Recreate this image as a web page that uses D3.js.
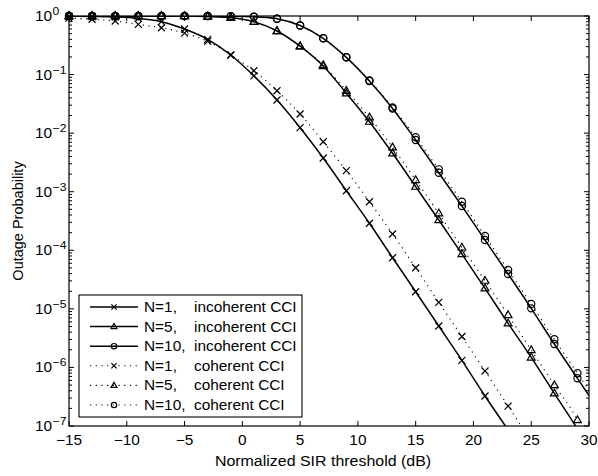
<!DOCTYPE html>
<html>
<head>
<meta charset="utf-8">
<script src="https://cdn.jsdelivr.net/npm/d3@7"></script>
<style>
  body { margin: 0; background: #fff; }
  text { font-family: "Liberation Sans", Arial, sans-serif; fill: #000; }
</style>
</head>
<body>
<div id="chart"></div>
<script>
// SIR grid (dB): markers every 2 dB, last entry only extends the line to the right edge
const snrDb = [-15, -13, -11, -9, -7, -5, -3, -1, 1, 3, 5, 7, 9, 11, 13, 15, 17, 19, 21, 23, 25, 27, 29, 30];

const incoh1 = [0.99, 0.98, 0.96, 0.91, 0.80, 0.60, 0.40, 0.216, 0.095, 0.0368, 0.0124, 0.00376,
  1.04e-3, 2.89e-4, 7.47e-5, 1.96e-5, 5.1e-6, 1.32e-6, 3.25e-7, 8.6e-8, null, null, null, null];
const incoh5 = [1, 1, 1, 1, 1, 0.998, 0.975, 0.935, 0.80, 0.555, 0.305, 0.14,
  0.048, 0.0157, 0.00453, 0.00122, 3.29e-4, 8.63e-5, 2.24e-5, 5.67e-6, 1.48e-6, 3.61e-7, 9e-8, null];
const incoh10 = [1, 1, 1, 1, 1, 1, 1, 0.995, 0.975, 0.90, 0.69, 0.416,
  0.197, 0.0777, 0.0264, 0.00764, 0.00211, 5.7e-4, 1.5e-4, 3.94e-5, 1.02e-5, 2.51e-6, 6.52e-7, 3.3e-7];
const coh1 = [0.92, 0.88, 0.82, 0.72, 0.63, 0.51, 0.37, 0.216, 0.116, 0.053, 0.0212, 0.00714,
  2.29e-3, 6.75e-4, 1.9e-4, 5.04e-5, 1.29e-5, 3.37e-6, 8.7e-7, 2.19e-7, 5.5e-8, null, null, null];
const coh5 = [1, 1, 1, 1, 1, 0.998, 0.975, 0.935, 0.80, 0.555, 0.305, 0.145,
  0.053, 0.0186, 0.00573, 0.00158, 4.28e-4, 1.12e-4, 3.03e-5, 7.85e-6, 1.98e-6, 5.0e-7, 1.26e-7, 4.5e-8];
const coh10 = [1, 1, 1, 1, 1, 1, 1, 0.995, 0.975, 0.90, 0.69, 0.416,
  0.197, 0.079, 0.0275, 0.0085, 0.00241, 6.75e-4, 1.75e-4, 4.6e-5, 1.21e-5, 3.02e-6, 7.94e-7, 4.1e-7];

const seriesNames = ['N=1,', 'N=5,', 'N=10,', 'N=1,', 'N=5,', 'N=10,'];
const seriesKinds = ['incoherent CCI', 'incoherent CCI', 'incoherent CCI', 'coherent CCI', 'coherent CCI', 'coherent CCI'];

const xTicks = [-15, -10, -5, 0, 5, 10, 15, 20, 25, 30];
const yExponents = [0, -1, -2, -3, -4, -5, -6, -7];

const width = 598, height = 476;
const margin = {top: 16, right: 9, bottom: 50, left: 69};
const sx = 1.1; // text looks horizontally stretched in the reference

const series = [
  {values: incoh1, marker: 'x', dotted: false},
  {values: incoh5, marker: 'tri', dotted: false},
  {values: incoh10, marker: 'o', dotted: false},
  {values: coh1, marker: 'x', dotted: true},
  {values: coh5, marker: 'tri', dotted: true},
  {values: coh10, marker: 'o', dotted: true}
];

const x = d3.scaleLinear()
    .domain([-15, 30])
    .range([margin.left, width - margin.right]);

const y = d3.scaleLog()
    .domain([1e-7, 1])
    .range([height - margin.bottom, margin.top]);

const svg = d3.select('#chart').append('svg')
    .attr('width', width)
    .attr('height', height);

svg.append('defs').append('clipPath')
    .attr('id', 'plot-clip')
  .append('rect')
    .attr('x', x.range()[0])
    .attr('y', y.range()[1])
    .attr('width', x.range()[1] - x.range()[0])
    .attr('height', y.range()[0] - y.range()[1]);

function markerPath(type, s) {
  if (type === 'x') return `M${-3.5 * s},${-3.5 * s}L${3.5 * s},${3.5 * s}M${-3.5 * s},${3.5 * s}L${3.5 * s},${-3.5 * s}`;
  if (type === 'tri') return `M0,${-4.2 * s}L${3.9 * s},${2.6 * s}L${-3.9 * s},${2.6 * s}Z`;
  const r = 3.6 * s;
  return `M${r},0A${r},${r} 0 1,1 ${-r},0A${r},${r} 0 1,1 ${r},0Z`;
}

// axes box and ticks
const axes = svg.append('g').attr('id', 'axes');

axes.append('rect')
    .attr('x', x.range()[0])
    .attr('y', y.range()[1])
    .attr('width', x.range()[1] - x.range()[0])
    .attr('height', y.range()[0] - y.range()[1])
    .attr('fill', 'none')
    .attr('stroke', '#000')
    .attr('stroke-width', 1.2);

const yMinor = [];
for (let e = -7; e < 0; e++) {
  for (let k = 2; k <= 9; k++) yMinor.push(k * Math.pow(10, e));
}

const tickG = axes.append('g')
    .attr('stroke', '#000')
    .attr('stroke-width', 1);

tickG.selectAll('.xt')
  .data(xTicks)
  .join('path')
    .attr('class', 'xt')
    .attr('d', d => `M${x(d)},${y.range()[0]}v-5M${x(d)},${y.range()[1]}v5`);

tickG.selectAll('.yt')
  .data(yExponents)
  .join('path')
    .attr('class', 'yt')
    .attr('d', d => `M${x.range()[0]},${y(Math.pow(10, d))}h5M${x.range()[1]},${y(Math.pow(10, d))}h-5`);

tickG.selectAll('.ym')
  .data(yMinor)
  .join('path')
    .attr('class', 'ym')
    .attr('d', d => `M${x.range()[0]},${y(d)}h3M${x.range()[1]},${y(d)}h-3`);

// tick labels
axes.selectAll('.xl')
  .data(xTicks)
  .join('text')
    .attr('class', 'xl')
    .attr('transform', d => `translate(${x(d)},${y.range()[0] + 19}) scale(${sx},1)`)
    .attr('text-anchor', 'middle')
    .attr('font-size', 14)
    .text(d => d3.format('')(d));

const yl = axes.selectAll('.yl')
  .data(yExponents)
  .join('g')
    .attr('class', 'yl')
    .attr('transform', d => `translate(${x.range()[0] - 34},${y(Math.pow(10, d)) + 5}) scale(${sx},1)`);

yl.append('text')
    .attr('font-size', 14)
    .text('10');

yl.append('text')
    .attr('x', 16)
    .attr('y', -6)
    .attr('font-size', 11)
    .text(d => d3.format('')(d));

// axis titles
svg.append('text')
    .attr('transform', `translate(${(x.range()[0] + x.range()[1]) / 2 - 6},${height - 10}) scale(${sx},1)`)
    .attr('text-anchor', 'middle')
    .attr('font-size', 14.5)
    .text('Normalized SIR threshold (dB)');

svg.append('text')
    .attr('transform', `translate(23,${(y.range()[0] + y.range()[1]) / 2}) rotate(-90)`)
    .attr('text-anchor', 'middle')
    .attr('font-size', 14.5)
    .text('Outage Probability');

// curves
const line = d3.line()
    .defined(d => d.v != null)
    .x(d => x(d.x))
    .y(d => y(d.v))
    .curve(d3.curveMonotoneX);

const plot = svg.append('g').attr('id', 'plot');

series.forEach(s => {
  const pts = snrDb.map((v, i) => ({x: v, v: s.values[i]}));

  plot.append('path')
      .attr('clip-path', 'url(#plot-clip)')
      .attr('d', line(pts))
      .attr('fill', 'none')
      .attr('stroke', '#000')
      .attr('stroke-width', s.dotted ? 1.1 : 1.5)
      .attr('stroke-dasharray', s.dotted ? '1.2,4.5' : null);

  const marks = pts.filter(d => d.v != null && d.x % 2 !== 0 && d.v >= 1e-7 && d.v <= 1);
  plot.append('g')
    .selectAll('path')
    .data(marks)
    .join('path')
      .attr('transform', d => `translate(${x(d.x)},${y(d.v)})`)
      .attr('d', markerPath(s.marker, 1))
      .attr('fill', 'none')
      .attr('stroke', '#000')
      .attr('stroke-width', 1.2);
});

// legend
const legend = svg.append('g')
    .attr('transform', 'translate(79,295)');

legend.append('rect')
    .attr('width', 223)
    .attr('height', 122)
    .attr('fill', '#fff')
    .attr('stroke', '#000')
    .attr('stroke-width', 1.1);

const rows = legend.selectAll('.row')
  .data(series)
  .join('g')
    .attr('class', 'row')
    .attr('transform', (d, i) => `translate(0,${12 + i * 19.6})`);

rows.append('path')
    .attr('d', 'M11,0H59')
    .attr('stroke', '#000')
    .attr('stroke-width', d => d.dotted ? 1.1 : 1.5)
    .attr('stroke-dasharray', d => d.dotted ? '1.2,4.5' : null);

rows.append('path')
    .attr('transform', 'translate(35,0)')
    .attr('d', d => markerPath(d.marker, 0.75))
    .attr('fill', 'none')
    .attr('stroke', '#000')
    .attr('stroke-width', 1.2);

rows.append('text')
    .attr('transform', `translate(65,5) scale(${sx},1)`)
    .attr('font-size', 14)
    .text((d, i) => seriesNames[i]);

rows.append('text')
    .attr('transform', `translate(115,5) scale(${sx},1)`)
    .attr('font-size', 14)
    .text((d, i) => seriesKinds[i]);
</script>
</body>
</html>
